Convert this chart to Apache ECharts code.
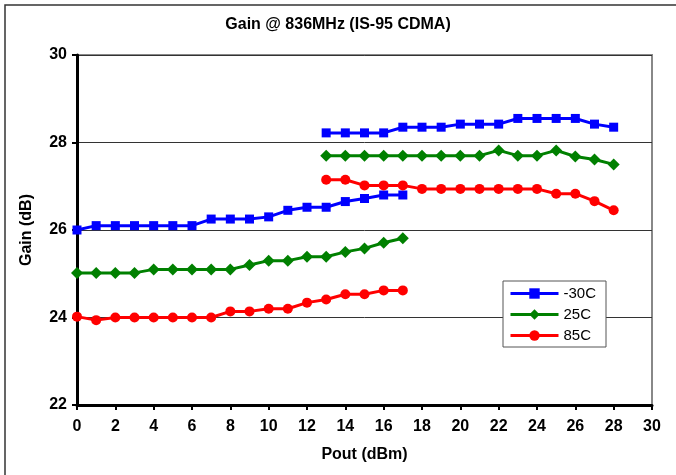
<!DOCTYPE html>
<html><head><meta charset="utf-8">
<script src="https://cdn.jsdelivr.net/npm/echarts@6/dist/echarts.min.js"></script>
<style>html,body{margin:0;padding:0;background:#fff}#c{width:676px;height:475px}</style>
</head><body><div id="c"></div>
<script>
const xLow = [0,1,2,3,4,5,6,7,8,9,10,11,12,13,14,15,16,17];
const xHigh = [13,14,15,16,17,18,19,20,21,22,23,24,25,26,27,28];
const m30Low = [26.0,26.1,26.1,26.1,26.1,26.1,26.1,26.25,26.25,26.25,26.3,26.45,26.52,26.52,26.65,26.72,26.8,26.8];
const m30High = [28.22,28.22,28.22,28.22,28.35,28.35,28.35,28.42,28.42,28.42,28.55,28.55,28.55,28.55,28.42,28.35];
const p25Low = [25.02,25.02,25.02,25.02,25.1,25.1,25.1,25.1,25.1,25.2,25.3,25.3,25.39,25.39,25.5,25.58,25.71,25.81];
const p25High = [27.7,27.7,27.7,27.7,27.7,27.7,27.7,27.7,27.7,27.82,27.7,27.7,27.82,27.68,27.61,27.5];
const p85Low = [24.02,23.94,24.0,24.0,24.0,24.0,24.0,24.0,24.14,24.14,24.2,24.2,24.34,24.41,24.53,24.53,24.62,24.62];
const p85High = [27.15,27.15,27.02,27.02,27.02,26.94,26.94,26.94,26.94,26.94,26.94,26.94,26.83,26.83,26.66,26.45];
const seriesNames = ['-30C','25C','85C'];
const colors = ['#0000ff','#008000','#ff0000'];
const xTicks = {min:0,max:30,interval:2};
const yTicks = {min:22,max:30,interval:2};

function pairs(xs, ys){ return xs.map((x,i)=>[x,ys[i]]); }
const font = 'Liberation Sans, Arial, sans-serif';
const sets = [[m30Low,m30High,'rect',9],[p25Low,p25High,'diamond',12],[p85Low,p85High,'circle',10]];
const series = [];
sets.forEach((s,i)=>{
  [[xLow,s[0]],[xHigh,s[1]]].forEach(([xs,ys])=>{
    series.push({
      name: seriesNames[i], type:'line', data: pairs(xs,ys),
      symbol: s[2], symbolSize: s[3], showSymbol:true,
      itemStyle:{color:colors[i]}, lineStyle:{color:colors[i],width:3},
      animation:false
    });
  });
});

const chart = echarts.init(document.getElementById('c'), null, {renderer:'canvas'});
chart.setOption({
  backgroundColor:'#fff',
  animation:false,
  title:{text:'Gain @ 836MHz (IS-95 CDMA)', left:'center', top:12,
    textStyle:{fontFamily:font,fontSize:16,fontWeight:'bold',color:'#000'}},
  legend:{data:seriesNames, orient:'vertical', left:503, top:281, width:100,
    itemWidth:48, itemHeight:13, itemGap:6, padding:[5,10,4,6],
    borderColor:'#555', borderWidth:1, backgroundColor:'#fff',
    lineStyle:{width:3},
    textStyle:{fontFamily:font,fontSize:15,color:'#000'}},
  grid:{left:77,right:24,top:55,bottom:70,show:true,borderColor:'#888',borderWidth:2,backgroundColor:'#fff'},
  xAxis:{type:'value', min:xTicks.min, max:xTicks.max, interval:xTicks.interval,
    name:'Pout (dBm)', nameLocation:'middle', nameGap:42,
    nameTextStyle:{fontFamily:font,fontSize:16,fontWeight:'bold',color:'#000'},
    axisLine:{show:true,onZero:false,lineStyle:{color:'#000',width:3}},
    axisTick:{show:true,length:5,lineStyle:{color:'#000',width:2}},
    axisLabel:{fontFamily:font,fontSize:16,fontWeight:'bold',color:'#000',margin:14},
    splitLine:{show:false}},
  yAxis:{type:'value', min:yTicks.min, max:yTicks.max, interval:yTicks.interval,
    name:'Gain (dB)', nameLocation:'middle', nameGap:42,
    nameTextStyle:{fontFamily:font,fontSize:16,fontWeight:'bold',color:'#000'},
    axisLine:{show:true,onZero:false,lineStyle:{color:'#000',width:3}},
    axisTick:{show:true,length:5,lineStyle:{color:'#000',width:2}},
    axisLabel:{fontFamily:font,fontSize:16,fontWeight:'bold',color:'#000',margin:10},
    splitLine:{show:true,lineStyle:{color:'#333',width:1}}},
  graphic:[{type:'rect',shape:{x:5,y:5,width:680,height:480},style:{fill:null,stroke:'#333',lineWidth:1.5},silent:true,z:-1}],
  series: series
});
</script></body></html>
